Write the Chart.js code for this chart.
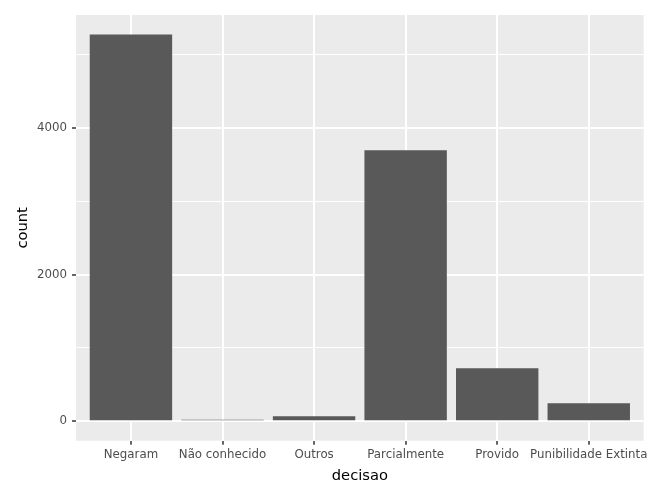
<!DOCTYPE html>
<html>
<head>
<meta charset="utf-8">
<script src="https://cdn.jsdelivr.net/npm/chart.js@4/dist/chart.umd.min.js"></script>
<style>
html,body{margin:0;padding:0;background:#fff;}
#wrap{width:660px;height:499px;position:relative;}
</style>
</head>
<body>
<div id="wrap"><canvas id="c" width="660" height="499"></canvas></div>
<script>
const categories = ["Negaram", "Não conhecido", "Outros", "Parcialmente", "Provido", "Punibilidade Extinta"];
const counts = [5271, 20, 68, 3691, 722, 245];
const yTicks = [0, 1000, 2000, 3000, 4000, 5000];
const yMajorTicks = [0, 2000, 4000];

const panelBg = {
  id: 'panelBg',
  beforeDraw(chart) {
    const {ctx, chartArea: a} = chart;
    ctx.save();
    ctx.fillStyle = '#EBEBEB';
    ctx.fillRect(a.left, a.top, a.right - a.left, a.bottom - a.top);
    ctx.restore();
  }
};

const isMajor = v => yMajorTicks.includes(v);

new Chart(document.getElementById('c'), {
  type: 'bar',
  data: {
    datasets: [{
      data: categories.map((c, i) => ({x: i + 1, y: counts[i]})),
      backgroundColor: '#595959',
      borderWidth: 0,
      categoryPercentage: 1,
      barPercentage: 0.9
    }]
  },
  options: {
    responsive: false,
    animation: false,
    devicePixelRatio: 1,
    layout: {padding: {top: 15, right: 16.3, left: 0, bottom: 0}},
    plugins: {legend: {display: false}, tooltip: {enabled: false}},
    scales: {
      x: {
        type: 'linear',
        offset: false,
        min: 0.4,
        max: 6.6,
        afterBuildTicks(scale) { scale.ticks = categories.map((c, i) => ({value: i + 1})); },
        afterFit(scale) { scale.height = 58.3; },
        ticks: {
          autoSkip: false,
          maxRotation: 0,
          padding: 3,
          color: '#4D4D4D',
          font: {family: 'DejaVu Sans', size: 11.8},
          callback: (v) => categories[Math.round(v) - 1]
        },
        grid: {
          offset: false,
          color: '#FFFFFF',
          lineWidth: 2,
          drawTicks: true,
          tickLength: 4,
          tickColor: '#333333',
          tickWidth: 1.5
        },
        border: {display: false},
        title: {
          display: true,
          text: 'decisao',
          color: '#000000',
          font: {family: 'DejaVu Sans', size: 14.7},
          padding: {top: 2, bottom: 14}
        }
      },
      y: {
        type: 'linear',
        min: -264,
        max: 5535,
        afterBuildTicks(scale) { scale.ticks = yTicks.map(v => ({value: v})); },
        afterFit(scale) { scale.width = 76; },
        ticks: {
          padding: 5,
          color: '#4D4D4D',
          font: {family: 'DejaVu Sans', size: 11.8},
          callback: (v) => isMajor(v) ? String(v) : ''
        },
        grid: {
          color: '#FFFFFF',
          lineWidth: (ctx) => isMajor(ctx.tick && ctx.tick.value) ? 2 : 1,
          drawTicks: true,
          tickLength: 4,
          tickColor: (ctx) => isMajor(ctx.tick && ctx.tick.value) ? '#333333' : 'rgba(0,0,0,0)',
          tickWidth: 1.5
        },
        border: {display: false},
        title: {
          display: true,
          text: 'count',
          color: '#000000',
          font: {family: 'DejaVu Sans', size: 14.7},
          padding: {top: 14, bottom: 0}
        }
      }
    }
  },
  plugins: [panelBg]
});
</script>
</body>
</html>
